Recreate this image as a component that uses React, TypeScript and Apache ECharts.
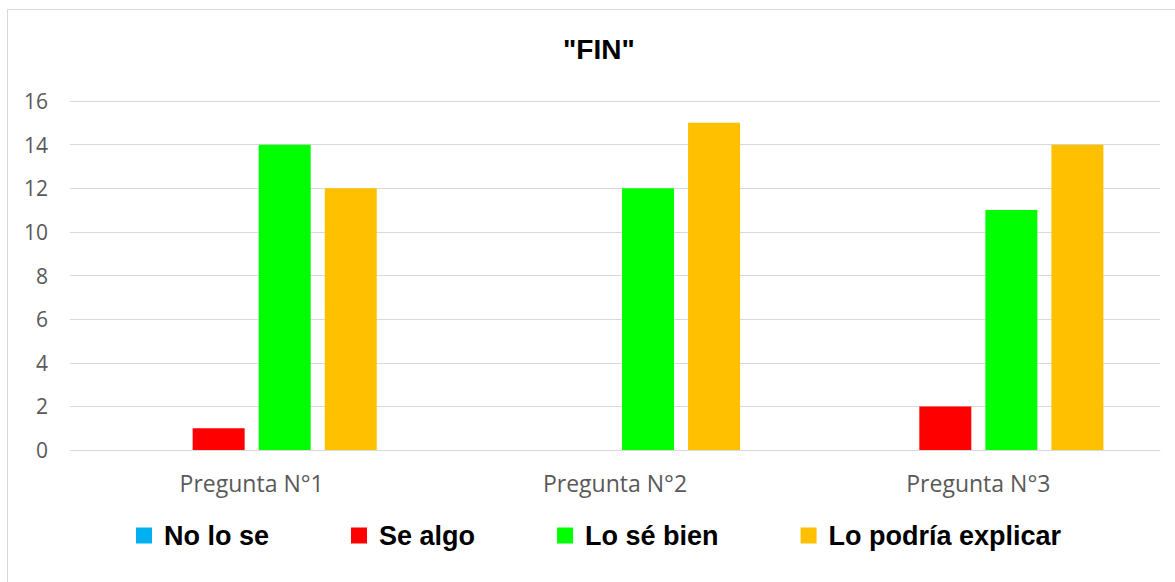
import React, { useEffect, useRef } from "react";
import * as echarts from "echarts";

const categories = ["Pregunta N°1", "Pregunta N°2", "Pregunta N°3"];
const seriesNames = ["No lo se", "Se algo", "Lo sé bien", "Lo podría explicar"];
const noLoSe = [0, 0, 0];
const seAlgo = [1, 0, 2];
const loSeBien = [14, 12, 11];
const loPodriaExplicar = [12, 15, 14];
const colors = ["#00B0F0", "#FF0000", "#00FF00", "#FFC000"];
const yTicks = { min: 0, max: 16, interval: 2 };

export default function App() {
  const ref = useRef<HTMLDivElement>(null);
  useEffect(() => {
    if (!ref.current) return;
    const chart = echarts.init(ref.current, undefined, { renderer: "svg" });
    const values = [noLoSe, seAlgo, loSeBien, loPodriaExplicar];
    chart.setOption({
      animation: false,
      backgroundColor: "#ffffff",
      title: {
        text: '"FIN"',
        left: 558,
        top: 30,
        textStyle: { fontFamily: "Liberation Sans", fontWeight: "bold", fontSize: 28, color: "#000" },
      },
      graphic: [
        {
          type: "rect",
          shape: { x: 7.5, y: 9.5, width: 1200, height: 600 },
          style: { fill: "none", stroke: "#d9d9d9", lineWidth: 1 },
          silent: true,
        },
      ],
      legend: {
        data: seriesNames,
        top: 522,
        left: 136,
        padding: 0,
        icon: "rect",
        itemWidth: 16,
        itemHeight: 16,
        itemGap: 82,
        textStyle: {
          fontFamily: "Liberation Sans",
          fontWeight: "bold",
          fontSize: 27,
          color: "#000",
          padding: [0, 0, 0, 7],
        },
      },
      grid: { left: 70, right: 15, top: 101, bottom: 132, containLabel: false },
      xAxis: {
        type: "category",
        data: categories,
        axisLine: { lineStyle: { color: "#d9d9d9", width: 1 } },
        axisTick: { show: false },
        axisLabel: { fontFamily: "Open Sans", fontSize: 23, color: "#595959", margin: 21 },
      },
      yAxis: {
        type: "value",
        min: yTicks.min,
        max: yTicks.max,
        interval: yTicks.interval,
        axisLine: { show: false },
        axisTick: { show: false },
        splitLine: { lineStyle: { color: "#d9d9d9", width: 1 } },
        axisLabel: { fontFamily: "Open Sans", fontSize: 21, color: "#595959", margin: 22 },
      },
      series: seriesNames.map((name, i) => ({
        name,
        type: "bar",
        data: values[i],
        barWidth: 52,
        barGap: "27%",
        itemStyle: { color: colors[i] },
      })),
    });
    return () => chart.dispose();
  }, []);
  return (
    <div
      ref={ref}
      style={{ position: "absolute", left: 0, top: 0, width: 1175, height: 582 }}
    />
  );
}
